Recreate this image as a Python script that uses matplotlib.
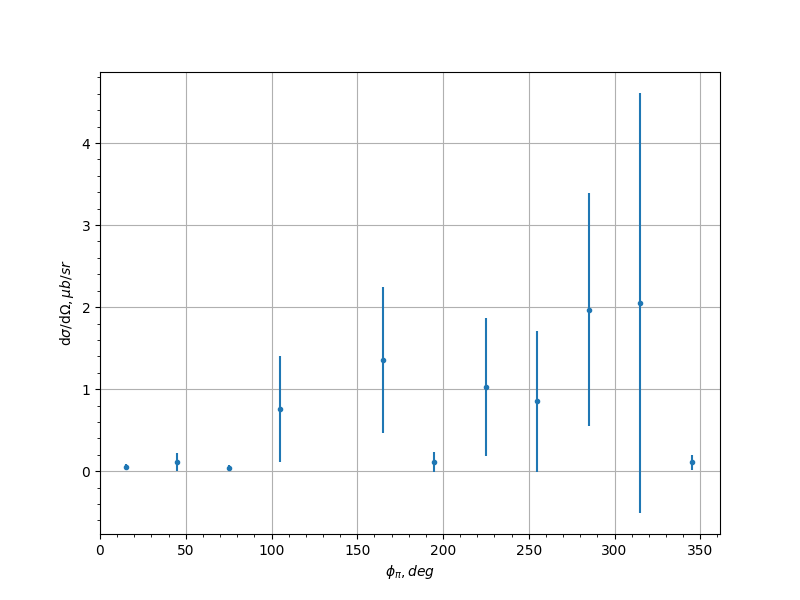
import numpy as np
import matplotlib
matplotlib.use("Agg")
import matplotlib.pyplot as plt

phi = [15, 45, 75, 105, 165, 195, 225, 255, 285, 315, 345]
xsec = [0.05, 0.11, 0.04, 0.76, 1.35, 0.11, 1.03, 0.85, 1.97, 2.05, 0.11]
err = [0.035, 0.11, 0.03, 0.65, 0.89, 0.12, 0.84, 0.86, 1.42, 2.56, 0.09]

fig, ax = plt.subplots(figsize=(8, 6), dpi=100)
ax.errorbar(phi, xsec, yerr=err, fmt='.')
ax.set_xlim(left=0)
ax.minorticks_on()
ax.grid(True)
ax.set_xlabel(r'$\phi_\pi, deg$')
ax.set_ylabel(r'd$\sigma$/d$\Omega, \mu b/sr$')
fig.savefig("out.png")
